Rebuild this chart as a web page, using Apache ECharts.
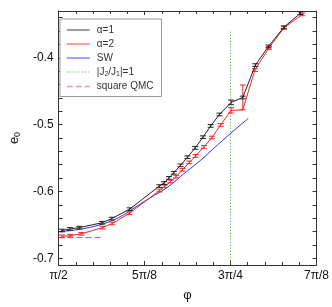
<!DOCTYPE html>
<html><head><meta charset="utf-8">
<script src="https://cdn.jsdelivr.net/npm/echarts@6/dist/echarts.min.js"></script>
<style>html,body{margin:0;padding:0;background:#fff}#c{width:332px;height:307px}</style>
</head><body><div id="c"></div>
<script>
// x values are phi in units of pi
var xTickValues = [0.5, 0.625, 0.75, 0.875];
var xTickLabels = ['π/2', '5π/8', '3π/4', '7π/8'];
var yTickValues = [-0.7, -0.6, -0.5, -0.4];
var yTickLabels = ['-0.7', '-0.6', '-0.5', '-0.4'];

var phiA1 = [0.5048,0.5165,0.5302,0.5631,0.5772,0.6033,0.6464,0.6534,0.6605,0.6675,0.6774,0.6873,0.6986,0.7099,0.7212,0.7339,0.7508,0.7678,0.7861,0.8052,0.8275,0.8517];
var eA1   = [-0.6584,-0.6561,-0.6541,-0.6468,-0.6406,-0.6265,-0.5920,-0.5874,-0.5797,-0.5720,-0.5609,-0.5488,-0.5348,-0.5188,-0.5019,-0.4848,-0.4667,-0.4594,-0.4109,-0.3830,-0.3543,-0.3333];
var errA1 = [0.002,0.002,0.002,0.002,0.002,0.002,0.002,0.002,0.002,0.002,0.002,0.002,0.002,0.002,0.002,0.002,0.0035,0.002,0.002,0.002,0.002,0.002];

var phiA2 = [0.5048,0.5169,0.5330,0.5641,0.5782,0.6030,0.6468,0.6544,0.6629,0.6708,0.6802,0.6901,0.6993,0.7113,0.7230,0.7357,0.7508,0.7678,0.7854,0.8059,0.8275,0.8543];
var eA2   = [-0.6671,-0.6662,-0.6633,-0.6541,-0.6478,-0.6326,-0.5986,-0.5923,-0.5851,-0.5778,-0.5675,-0.5565,-0.5468,-0.5333,-0.5193,-0.5004,-0.4787,-0.4778,-0.4184,-0.3852,-0.3554,-0.3351];
var errA2Up   = [0.002,0.002,0.002,0.002,0.002,0.002,0.002,0.002,0.002,0.002,0.002,0.002,0.002,0.002,0.002,0.002,0.004,0.037,0.002,0.002,0.002,0.002];
var errA2Down = [0.002,0.002,0.002,0.002,0.002,0.002,0.002,0.002,0.002,0.002,0.002,0.002,0.002,0.002,0.002,0.002,0.004,0.0,0.002,0.002,0.002,0.002];

var phiSW = [0.5010,0.5123,0.5265,0.5405,0.5546,0.5687,0.5829,0.5970,0.6111,0.6252,0.6393,0.6535,0.6676,0.6817,0.6958,0.7099,0.7240,0.7381,0.7522,0.7663,0.7758];
var eSW   = [-0.6599,-0.6591,-0.6572,-0.6548,-0.6514,-0.6471,-0.6413,-0.6333,-0.6239,-0.6145,-0.6058,-0.5971,-0.5862,-0.5739,-0.5623,-0.5503,-0.5370,-0.5239,-0.5112,-0.4988,-0.4909];

var phiJ = [0.75, 0.75];
var eJ   = [-0.361, -0.71];

var phiQMC = [0.5, 0.5645];
var eQMC   = [-0.669, -0.669];

var names = ['α=1', 'α=2', 'SW', '|J2/J1|=1', 'square QMC'];

function zip(a, b) { return a.map(function (v, i) { return [v, b[i]]; }); }
function errData(x, e, up, dn) { return x.map(function (v, i) { return [v, e[i] - dn[i], e[i] + up[i]]; }); }
function errRender(color) {
  return function (params, api) {
    var x = api.value(0), lo = api.value(1), hi = api.value(2);
    var p1 = api.coord([x, hi]), p2 = api.coord([x, lo]);
    var st = { stroke: color, lineWidth: 1 };
    return { type: 'group', children: [
      { type: 'line', shape: { x1: p1[0], y1: p1[1], x2: p2[0], y2: p2[1] }, style: st },
      { type: 'line', shape: { x1: p1[0] - 3, y1: p1[1], x2: p1[0] + 3, y2: p1[1] }, style: st },
      { type: 'line', shape: { x1: p2[0] - 3, y1: p2[1], x2: p2[0] + 3, y2: p2[1] }, style: st }
    ]};
  };
}

var yMinorTicks = [];
for (var k = -70; k <= -34; k += 2) yMinorTicks.push(k / 100);

var font = 'Liberation Sans, Arial, sans-serif';
var axisCommon = {
  axisLine: { lineStyle: { color: '#333', width: 1 } },
  splitLine: { show: false }
};

var chart = echarts.init(document.getElementById('c'), null, { renderer: 'canvas' });
chart.setOption({
  animation: false,
  backgroundColor: '#fff',
  grid: { left: 51, right: 15, top: 11, bottom: 34 },
  legend: {
    orient: 'vertical', left: 60, top: 19,
    data: names,
    backgroundColor: '#fff', borderColor: '#999', borderWidth: 1, borderRadius: 0,
    padding: [6, 8, 5, 6], itemWidth: 23, itemHeight: 8, itemGap: 4,
    itemStyle: { opacity: 0 },
    lineStyle: { width: 1.6, opacity: 0.55 },
    textStyle: { fontSize: 10, color: '#333', fontFamily: font, padding: [0, 0, 0, 2], rich: { s: { fontSize: 7, verticalAlign: 'bottom', padding: [4, 0, 0, 0], color: '#333' } } },
    formatter: function (n) { return n === '|J2/J1|=1' ? '|J{s|2}/J{s|1}|=1' : n; }
  },
  xAxis: [
    Object.assign({}, axisCommon, {
      type: 'value', min: 0.5, max: 0.875, interval: 0.125, position: 'bottom',
      name: 'φ', nameLocation: 'middle', nameGap: 24,
      nameTextStyle: { fontSize: 13, color: '#111', fontFamily: font },
      axisTick: { inside: true, length: 4, lineStyle: { color: '#333' } },
      minorTick: { show: true, splitNumber: 5, length: 3, lineStyle: { color: '#333' } },
      axisLabel: { fontSize: 12, color: '#111', fontFamily: font, margin: 5,
        formatter: function (v) { var i = xTickValues.findIndex(function (t) { return Math.abs(t - v) < 1e-6; }); return i >= 0 ? xTickLabels[i] : ''; } }
    }),
    Object.assign({}, axisCommon, {
      type: 'value', min: 0.5, max: 0.875, interval: 0.125, position: 'top',
      axisTick: { inside: true, length: 4, lineStyle: { color: '#333' } },
      minorTick: { show: true, splitNumber: 5, length: 3, lineStyle: { color: '#333' } },
      axisLabel: { show: false }
    })
  ],
  yAxis: [
    Object.assign({}, axisCommon, {
      type: 'value', min: -0.71, max: -0.33, position: 'left',
      name: '{e|e}{s|0}', nameLocation: 'middle', nameGap: 34, nameRotate: 90,
      nameTextStyle: { color: '#111', fontFamily: font, rich: { e: { fontSize: 13, fontFamily: font, color: '#111' }, s: { fontSize: 9, fontFamily: font, color: '#111', verticalAlign: 'bottom', padding: [6, 0, 0, 0] } } },
      axisTick: { inside: true, length: 4, customValues: yMinorTicks, lineStyle: { color: '#333' } },
      axisLabel: { fontSize: 12, color: '#111', fontFamily: font, margin: 5, customValues: yTickValues,
        formatter: function (v) { var i = yTickValues.findIndex(function (t) { return Math.abs(t - v) < 1e-6; }); return i >= 0 ? yTickLabels[i] : ''; } }
    }),
    Object.assign({}, axisCommon, {
      type: 'value', min: -0.71, max: -0.33, position: 'right',
      axisTick: { inside: true, length: 4, customValues: yMinorTicks, lineStyle: { color: '#333' } },
      axisLabel: { show: false }
    })
  ],
  series: [
    { name: names[0], type: 'line', data: zip(phiA1, eA1), symbol: 'none', lineStyle: { color: '#222', width: 1 }, itemStyle: { color: '#222' }, z: 5 },
    { name: names[1], type: 'line', data: zip(phiA2, eA2), symbol: 'none', lineStyle: { color: '#ff2020', width: 1 }, itemStyle: { color: '#ff2020' }, z: 4 },
    { name: names[2], type: 'line', data: zip(phiSW, eSW), symbol: 'none', smooth: true, lineStyle: { color: '#2a2af0', width: 1 }, itemStyle: { color: '#2a2af0' }, z: 3 },
    { name: names[3], type: 'line', data: zip(phiJ, eJ), symbol: 'none', lineStyle: { color: '#22aa22', width: 1, type: [1, 2] }, itemStyle: { color: '#22aa22' }, z: 2 },
    { name: names[4], type: 'line', data: zip(phiQMC, eQMC), symbol: 'none', lineStyle: { color: '#ff3399', width: 1, type: [6, 3] }, itemStyle: { color: '#ff3399' }, z: 2 },
    { name: 'errA1', type: 'custom', data: errData(phiA1, eA1, errA1, errA1), renderItem: errRender('#222'), z: 6, encode: { x: 0, y: [1, 2] } },
    { name: 'errA2', type: 'custom', data: errData(phiA2, eA2, errA2Up, errA2Down), renderItem: errRender('#ff2020'), z: 5, encode: { x: 0, y: [1, 2] } }
  ]
});
</script></body></html>
